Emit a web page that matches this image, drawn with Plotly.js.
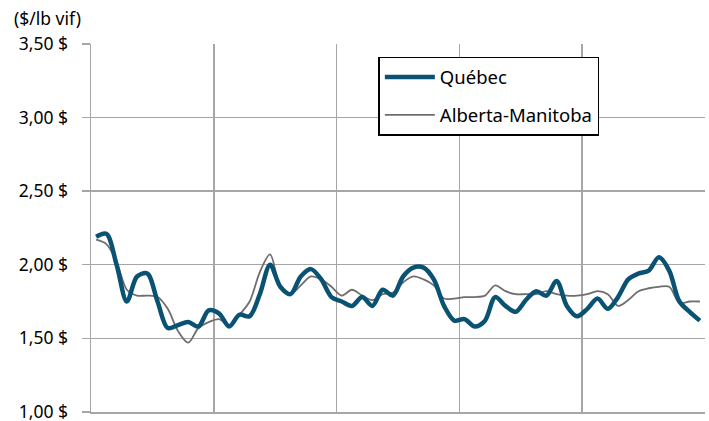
<!DOCTYPE html>
<html>
<head>
<meta charset="utf-8">
<script src="https://cdn.plot.ly/plotly-3.0.1.min.js"></script>
<style>html,body{margin:0;padding:0;background:#fff;}#chart{width:709px;height:421px;}</style>
</head>
<body>
<div id="chart"></div>
<script>
// Monthly prices ($/lb live weight), 60 months
const months = Array.from({length: 60}, (_, i) => i);
const quebec = [
  2.19, 2.21, 2.00, 1.75, 1.92, 1.94, 1.75, 1.57, 1.59, 1.61,
  1.58, 1.69, 1.67, 1.58, 1.66, 1.65, 1.80, 2.00, 1.85, 1.80,
  1.92, 1.97, 1.90, 1.78, 1.75, 1.72, 1.78, 1.72, 1.83, 1.79,
  1.92, 1.98, 1.98, 1.90, 1.72, 1.62, 1.63, 1.58, 1.62, 1.78,
  1.72, 1.68, 1.76, 1.82, 1.79, 1.89, 1.72, 1.65, 1.70, 1.77,
  1.70, 1.78, 1.90, 1.94, 1.96, 2.05, 1.96, 1.75, 1.68, 1.62
];
const albertaManitoba = [
  2.17, 2.14, 2.02, 1.83, 1.79, 1.79, 1.78, 1.70, 1.55, 1.47,
  1.57, 1.61, 1.63, 1.59, 1.66, 1.75, 1.95, 2.07, 1.85, 1.80,
  1.86, 1.92, 1.90, 1.85, 1.79, 1.83, 1.79, 1.76, 1.80, 1.81,
  1.88, 1.92, 1.90, 1.86, 1.77, 1.77, 1.78, 1.78, 1.79, 1.86,
  1.82, 1.80, 1.80, 1.80, 1.82, 1.80, 1.79, 1.79, 1.80, 1.82,
  1.80, 1.72, 1.76, 1.82, 1.84, 1.85, 1.85, 1.74, 1.75, 1.75
];
const seriesNames = ["Québec", "Alberta-Manitoba"];
const yTitle = "($/lb vif)";
const yTicks = [1, 1.5, 2, 2.5, 3, 3.5];

const data = [
  {x: months, y: albertaManitoba, name: seriesNames[1], type: "scatter", mode: "lines",
   line: {color: "#6e6e6e", width: 1.8, shape: "spline", smoothing: 0.9}, legendgroup: "b", legendrank: 2},
  {x: months, y: quebec, name: seriesNames[0], type: "scatter", mode: "lines",
   line: {color: "#0a5273", width: 4.5, shape: "spline", smoothing: 0.9}, legendgroup: "a", legendrank: 1}
];

const layout = {
  width: 709, height: 421,
  margin: {l: 91, r: 4, t: 44, b: 9},
  paper_bgcolor: "#fff", plot_bgcolor: "#fff",
  font: {family: "Noto Sans, Open Sans, sans-serif", size: 16, color: "#000"},
  separators: ",.",
  showlegend: true,
  legend: {
    x: 0.468, y: 0.965, xanchor: "left", yanchor: "top",
    bordercolor: "#000", borderwidth: 1.5, bgcolor: "#fff",
    font: {size: 18.5, color: "#000"}, tracegroupgap: 11, itemwidth: 50,
    traceorder: "grouped"
  },
  xaxis: {
    range: [-0.5, 59.5], tick0: -0.5, dtick: 12, showticklabels: false,
    showgrid: true, gridcolor: "#a6a6a6", gridwidth: 1.5,
    showline: true, linecolor: "#a6a6a6", linewidth: 1.5,
    ticks: "", zeroline: false, fixedrange: true
  },
  yaxis: {
    range: [0.999, 3.5], tickmode: "array", tickvals: yTicks,
    ticktext: yTicks.map(v => v.toFixed(2).replace(".", ",") + " $"),
    showgrid: true, gridcolor: "#a6a6a6", gridwidth: 1.5,
    showline: true, linecolor: "#a6a6a6", linewidth: 1.5,
    ticks: "outside", ticklen: 8, tickcolor: "#a6a6a6", tickwidth: 1.5,
    ticklabelstandoff: 10, ticklabeloverflow: "allow",
    tickfont: {size: 17.5, color: "#000"},
    zeroline: false, fixedrange: true
  },
  annotations: [{
    text: yTitle, xref: "paper", yref: "paper", x: -0.1287, y: 1.072, xanchor: "left", yanchor: "middle",
    showarrow: false, font: {size: 17.5, color: "#000"}
  }]
};
Plotly.newPlot("chart", data, layout, {displayModeBar: false, staticPlot: true});
</script>
</body>
</html>
